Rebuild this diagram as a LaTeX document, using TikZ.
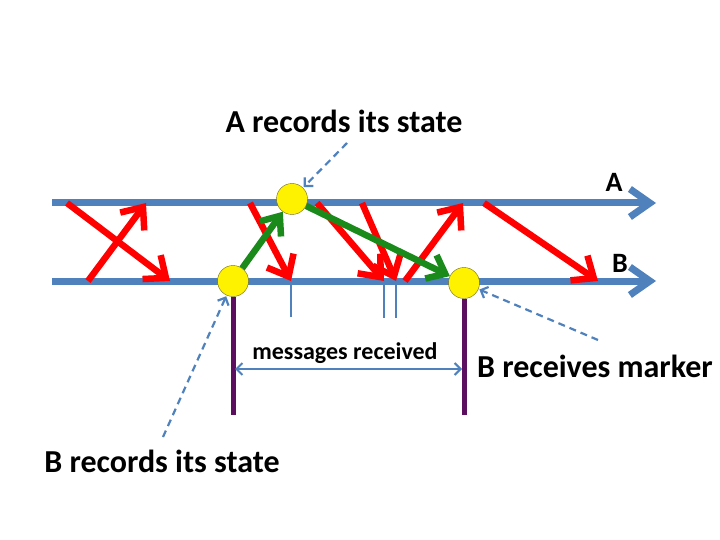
\documentclass[tikz,border=0pt]{standalone}
\usepackage{fontspec}
\setmainfont{Carlito}
\usetikzlibrary{arrows.meta}
\definecolor{lineblue}{HTML}{4F81BD}
\definecolor{msgred}{HTML}{FF0000}
\definecolor{markgreen}{HTML}{1A8A1A}
\definecolor{cutpurple}{HTML}{5C0F5E}
\tikzset{
  process/.style={lineblue,line width=7pt,-{Straight Barb[length=20pt,width=28pt]}},
  msg/.style={msgred,line width=6.5pt,-{Straight Barb[length=18pt,width=30pt]}},
  markmsg/.style={markgreen,line width=6.5pt,-{Straight Barb[length=16pt,width=26pt]}},
  snap/.style={circle,draw=olive!70!black,fill=yellow,minimum size=31pt,inner sep=0pt},
  pointer/.style={lineblue,line width=2.2pt,dash pattern=on 7pt off 5pt,shorten >=1pt,-{Straight Barb[length=6pt,width=12pt]}},
  recvtick/.style={lineblue,line width=2pt},
  cutline/.style={cutpurple,line width=5pt},
  callout/.style={font=\bfseries\fontsize{32}{36}\selectfont,inner sep=0pt,anchor=base},
  proc name/.style={font=\bfseries\fontsize{28}{32}\selectfont,inner sep=0pt,anchor=base},
  small callout/.style={font=\bfseries\fontsize{24}{28}\selectfont,inner sep=0pt,anchor=base}
}
\begin{document}
\begin{tikzpicture}[x=1pt,y=-1pt]
  \useasboundingbox (0,0) rectangle (720,540);
  % process lines
  \coordinate (a0) at (52,203);
  \coordinate (a1) at (656,203);
  \coordinate (b0) at (52,281);
  \coordinate (b1) at (656,281);
  \draw [process] (a0) -- (a1);
  \draw [process] (b0) -- (b1);
  \node [proc name] (alab) at (614,192) {A};
  \node [proc name] (blab) at (620,272) {B};
  % messages
  \coordinate (m1s) at (67,203);  \coordinate (m1e) at (170,281);
  \coordinate (m2s) at (88,281);  \coordinate (m2e) at (146,203);
  \coordinate (m3s) at (250,203); \coordinate (m3e) at (291,281);
  \coordinate (m4s) at (317,203); \coordinate (m4e) at (384,281);
  \coordinate (m5s) at (362,203); \coordinate (m5e) at (396,281);
  \coordinate (m6s) at (405,281); \coordinate (m6e) at (463,203);
  \coordinate (m7s) at (484,203); \coordinate (m7e) at (598,281);
  \draw [recvtick] (m3e) -- ++(0,36);
  \draw [recvtick] (m4e) -- ++(0,37);
  \draw [recvtick] (m5e) -- ++(0,37);
  \draw [msg] (m1s) -- (m1e);
  \draw [msg] (m2s) -- (m2e);
  \draw [msg] (m3s) -- (m3e);
  \draw [msg] (m4s) -- (m4e);
  \draw [msg] (m5s) -- (m5e);
  \draw [msg] (m6s) -- (m6e);
  \draw [msg] (m7s) -- (m7e);
  % snapshot points
  \node [snap] (arec) at (292,199) {};
  \node [snap] (brec) at (233,281) {};
  \node [snap] (bmark) at (464,283) {};
  \draw [markmsg] (brec) -- (arec);
  \draw [markmsg] (arec) -- (bmark);
  \draw [cutline] (brec.south) -- ++(0,118);
  \draw [cutline] (bmark.south) -- ++(0,116);
  % recorded channel
  \coordinate (mr1) at (235,369);
  \coordinate (mr2) at (462,369);
  \draw [recvtick,{Straight Barb[length=6pt,width=12pt]}-{Straight Barb[length=6pt,width=12pt]}] (mr1) -- (mr2);
  \node [small callout] (mlab) at (345,359) {messages received};
  % annotations
  \node [callout] (atxt) at (344,133) {A records its state};
  \node [callout] (btxt) at (162,472) {B records its state};
  \node [callout] (mtxt) at (595,377) {B receives marker};
  \coordinate (pa) at (347,143);
  \coordinate (pb) at (163,437);
  \coordinate (pm) at (598,340);
  \draw [pointer] (pa) -- (arec);
  \draw [pointer] (pb) -- (brec);
  \draw [pointer] (pm) -- (bmark);
\end{tikzpicture}
\end{document}
